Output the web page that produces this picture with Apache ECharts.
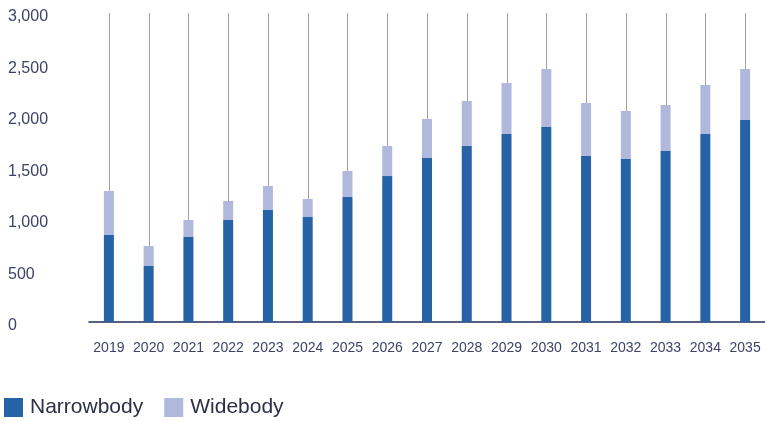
<!DOCTYPE html>
<html>
<head>
<meta charset="utf-8">
<script src="https://cdn.jsdelivr.net/npm/echarts@6/dist/echarts.min.js"></script>
<style>
html,body{margin:0;padding:0;background:#fff;}
#chart{width:765px;height:421px;}
</style>
</head>
<body>
<div id="chart"></div>
<script>
const years = ['2019','2020','2021','2022','2023','2024','2025','2026','2027','2028','2029','2030','2031','2032','2033','2034','2035'];
const narrowbody = [845, 544, 825, 990, 1087, 1019, 1214, 1417, 1592, 1709, 1825, 1893, 1612, 1583, 1660, 1825, 1961];
const widebody = [427, 194, 165, 185, 233, 175, 252, 292, 379, 437, 495, 563, 514, 466, 447, 476, 495];
const yMax = 3000;
const yInterval = 500;

const totals = narrowbody.map((v, i) => v + widebody[i]);
const dropData = totals.map((t, i) => [i, t, yMax]);

const chart = echarts.init(document.getElementById('chart'), null, {renderer: 'canvas'});
chart.setOption({
  animation: false,
  grid: {left: 89, top: 13, width: 680, height: 309, containLabel: false},
  legend: {
    left: 4, top: 397, padding: 0,
    itemWidth: 19, itemHeight: 19, itemGap: 21,
    icon: 'rect',
    textStyle: {fontFamily: 'Liberation Sans, Arial, sans-serif', fontSize: 21, color: '#2a2f45', padding: [0,0,0,2]},
    data: ['Narrowbody', 'Widebody']
  },
  xAxis: {
    type: 'category',
    data: years,
    axisLine: {show: true, lineStyle: {color: '#1f2d5a', width: 1.5}},
    axisTick: {show: false},
    axisLabel: {fontFamily: 'Liberation Sans, Arial, sans-serif', fontSize: 14, color: '#3b4466', margin: 19, interval: 0}
  },
  yAxis: {
    type: 'value',
    min: 0, max: yMax, interval: yInterval,
    axisLine: {show: false},
    axisTick: {show: false},
    splitLine: {show: false},
    axisLabel: {
      align: 'left', margin: 81,
      formatter: v => '{t|' + v.toLocaleString('en-US') + '}',
      rich: {
        t: {fontFamily: 'Liberation Sans, Arial, sans-serif', fontSize: 16, color: '#3b4466', padding: [8,0,0,0]}
      }
    }
  },
  series: [
    {
      name: 'Narrowbody', type: 'bar', stack: 'a', barWidth: 10,
      itemStyle: {color: '#2563a6'},
      data: narrowbody
    },
    {
      name: 'Widebody', type: 'bar', stack: 'a', barWidth: 10,
      itemStyle: {color: '#b0b9dc'},
      data: widebody
    },
    {
      name: 'drop', type: 'custom',
      silent: true,
      renderItem: function (params, api) {
        const p1 = api.coord([api.value(0), api.value(1)]);
        const p2 = api.coord([api.value(0), api.value(2)]);
        const x = Math.round(p1[0]) + 0.5;
        return {
          type: 'line',
          shape: {x1: x, y1: p1[1], x2: x, y2: p2[1]},
          style: {stroke: '#a0a0a0', lineWidth: 1}
        };
      },
      encode: {x: 0, y: [1, 2]},
      data: dropData,
      z: 1
    }
  ]
});
</script>
</body>
</html>
